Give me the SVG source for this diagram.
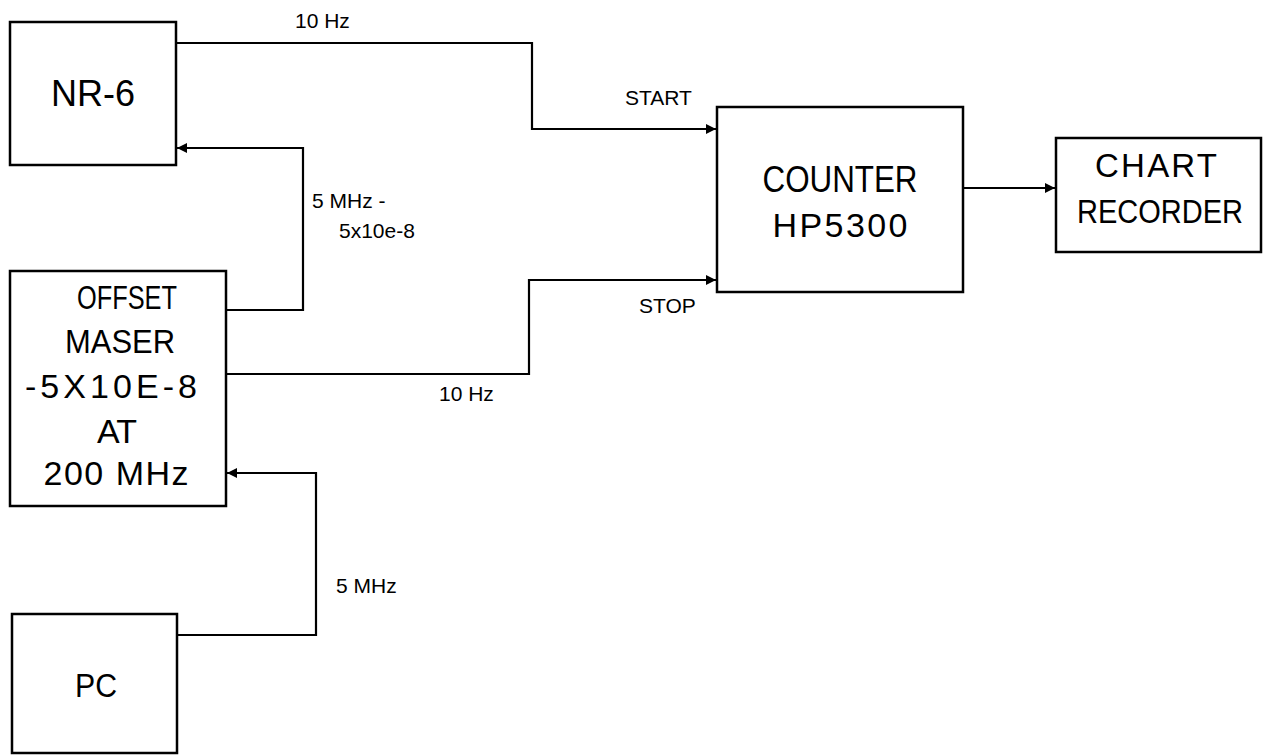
<svg xmlns="http://www.w3.org/2000/svg" width="1269" height="755" viewBox="0 0 1269 755">
<style>
.box{fill:#fff;stroke:#000;stroke-width:2.5}
.wire{fill:none;stroke:#000;stroke-width:2.2}
.big{font-family:"Liberation Sans",Arial,sans-serif;font-size:34px;fill:#000;text-anchor:middle}
.lbl{font-family:"Liberation Sans",Arial,sans-serif;font-size:21px;fill:#000}
</style>
<defs>
<marker id="arr" viewBox="0 0 10 10" refX="10" refY="5" markerWidth="12" markerHeight="10" markerUnits="userSpaceOnUse" orient="auto">
<path d="M0,0 L10,5 L0,10 z" fill="#000"/>
</marker>
</defs>
<rect width="1269" height="755" fill="#fff"/>
<g id="connectors">
<path class="wire" d="M176,43 H532 V129 H716" marker-end="url(#arr)"/>
<path class="wire" d="M226,310 H303 V148 H177" marker-end="url(#arr)"/>
<path class="wire" d="M226,374 H529 V280 H716" marker-end="url(#arr)"/>
<path class="wire" d="M177,635 H316 V473 H227" marker-end="url(#arr)"/>
<path class="wire" d="M963,188 H1055" marker-end="url(#arr)"/>
<text class="lbl" x="295" y="28">10 Hz</text>
<text class="lbl" x="625" y="105">START</text>
<text class="lbl" x="312" y="208">5 MHz -</text>
<text class="lbl" x="339" y="238">5x10e-8</text>
<text class="lbl" x="639" y="313">STOP</text>
<text class="lbl" x="439" y="401">10 Hz</text>
<text class="lbl" x="336" y="593">5 MHz</text>
</g>
<g id="nr6">
<rect class="box" x="10" y="22" width="166" height="143"/>
<text class="big" x="93" y="106" style="font-size:36px">NR-6</text>
</g>
<g id="maser">
<rect class="box" x="10" y="271" width="216" height="235"/>
<text class="big" x="127" y="309" textLength="100" lengthAdjust="spacingAndGlyphs">OFFSET</text>
<text class="big" x="120" y="353" textLength="110" lengthAdjust="spacingAndGlyphs">MASER</text>
<text class="big" x="111" y="398" textLength="172" lengthAdjust="spacing">-5X10E-8</text>
<text class="big" x="117" y="443" textLength="40" lengthAdjust="spacing">AT</text>
<text class="big" x="116" y="485" textLength="145" lengthAdjust="spacing">200 MHz</text>
</g>
<g id="pc">
<rect class="box" x="12" y="614" width="165" height="139"/>
<text class="big" x="96" y="697" textLength="42" lengthAdjust="spacingAndGlyphs">PC</text>
</g>
<g id="counter">
<rect class="box" x="717" y="107" width="246" height="185"/>
<text class="big" x="840" y="192" style="font-size:36px" textLength="155" lengthAdjust="spacingAndGlyphs">COUNTER</text>
<text class="big" x="840" y="237" textLength="135" lengthAdjust="spacing">HP5300</text>
</g>
<g id="chart">
<rect class="box" x="1056" y="138" width="205" height="114"/>
<text class="big" x="1156" y="177" style="font-size:33px" textLength="122" lengthAdjust="spacing">CHART</text>
<text class="big" x="1160" y="223" style="font-size:33px" textLength="166" lengthAdjust="spacingAndGlyphs">RECORDER</text>
</g>
</svg>
